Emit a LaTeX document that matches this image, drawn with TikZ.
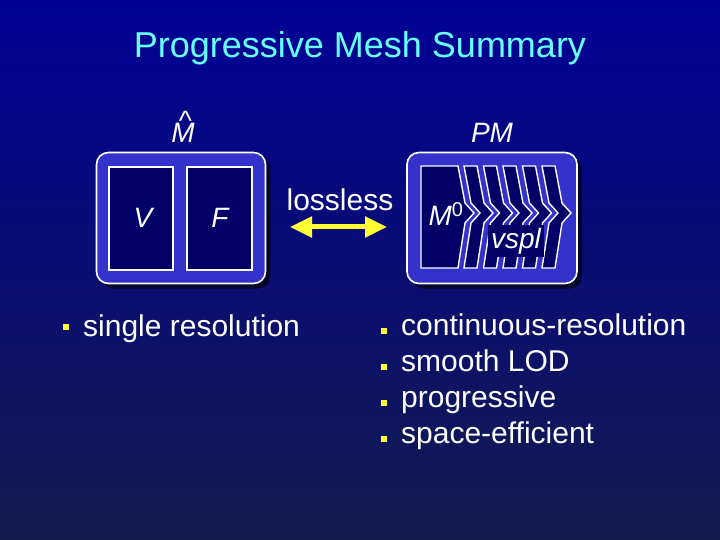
\documentclass[tikz,border=0pt]{standalone}
\usepackage{fontspec}
\setmainfont{Liberation Sans}
\usetikzlibrary{arrows.meta,shadows}
\definecolor{bgtop}{RGB}{0,0,150}
\definecolor{bgbot}{RGB}{18,28,78}
\definecolor{boxblue}{RGB}{51,51,204}
\definecolor{navy}{RGB}{0,0,102}
\definecolor{titlecyan}{RGB}{102,255,255}
\definecolor{bulletyellow}{RGB}{255,255,51}
\tikzset{
  outerbox/.style={draw=white, line width=1.6pt, fill=boxblue, rounded corners=12pt,
    drop shadow={shadow xshift=5pt, shadow yshift=-5pt, opacity=0.6, fill=black}},
  innerbox/.style={draw=white, line width=1.4pt, fill=navy},
  lbl/.style={text=white, font=\fontsize{28}{30}\selectfont\itshape, inner sep=0pt},
  body/.style={text=white, font=\fontsize{30}{32}\selectfont, inner sep=0pt, anchor=base west},
  bul/.style={fill=bulletyellow, minimum size=6pt, inner sep=0pt, draw=none},
}
\begin{document}
\begin{tikzpicture}[x=1pt,y=-1pt]
\useasboundingbox (0,0) rectangle (720,540);
\shade[top color=bgtop, bottom color=bgbot] (0,0) rectangle (720,540);

% title
\node[text=titlecyan, font=\fontsize{36}{38}\selectfont, inner sep=0pt] (title) at (360,48) {Progressive Mesh Summary};

% left box
\node[outerbox, minimum width=169pt, minimum height=131pt] (mhatbox) at (181,218) {};
\node[innerbox, minimum width=64pt, minimum height=103pt] (vbox) at (141,218.5) {};
\node[innerbox, minimum width=65pt, minimum height=103pt] (fbox) at (219.5,218.5) {};
\node[lbl] (vlab) at (143,218) {V};
\node[lbl] (flab) at (220,218) {F};
\node[lbl, anchor=base] (mhat) at (183,143) {\begin{tabular}[b]{@{}c@{}}\upshape\hspace*{5pt}\^{}\\[-17.5pt]M\end{tabular}};

% right box
\node[outerbox, minimum width=170pt, minimum height=131pt] (pmbox) at (492,218) {};
\node[lbl] (pm) at (492,133) {PM};
\draw[innerbox] (421,166) -- (458,166) -- (465,203) -- (474,213) -- (465,223) -- (458,268) -- (421,268) -- cycle;
\foreach \x in {464,483.5,503,522.5,542} {
  \draw[innerbox] (\x,166) -- (\x+13,166) -- (\x+20,203) -- (\x+29,213) -- (\x+20,223) -- (\x+13,268)
     -- (\x,268) -- (\x+7,223) -- (\x+16,213) -- (\x+7,203) -- cycle;
}
\node[lbl] (m0) at (446,214) {M\textsuperscript{\upshape\fontsize{20}{20}\selectfont 0}};
\node[lbl, fill=navy, inner xsep=3pt, inner ysep=3pt] (vspl) at (516,241) {vspl};

% lossless arrow
\node[text=white, font=\fontsize{30}{32}\selectfont, inner sep=0pt] (lossless) at (340,200) {lossless};
\coordinate (al) at (290,227);
\coordinate (ar) at (387,227);
\draw[bulletyellow, line width=5pt, {Triangle[length=22pt,width=20pt]}-{Triangle[length=22pt,width=20pt]}] (al) -- (ar);

% bullets left
\node[bul] (b0) at (66,327) {};
\node[body] (t0) at (83,336) {single resolution};

% bullets right
\node[bul] (b1) at (384,331) {};
\node[body] (t1) at (401,335) {continuous-resolution};
\node[bul] (b2) at (384,367) {};
\node[body] (t2) at (401,371) {smooth LOD};
\node[bul] (b3) at (384,403) {};
\node[body] (t3) at (401,407) {progressive};
\node[bul] (b4) at (384,439) {};
\node[body] (t4) at (401,443) {space-efficient};
\end{tikzpicture}
\end{document}
